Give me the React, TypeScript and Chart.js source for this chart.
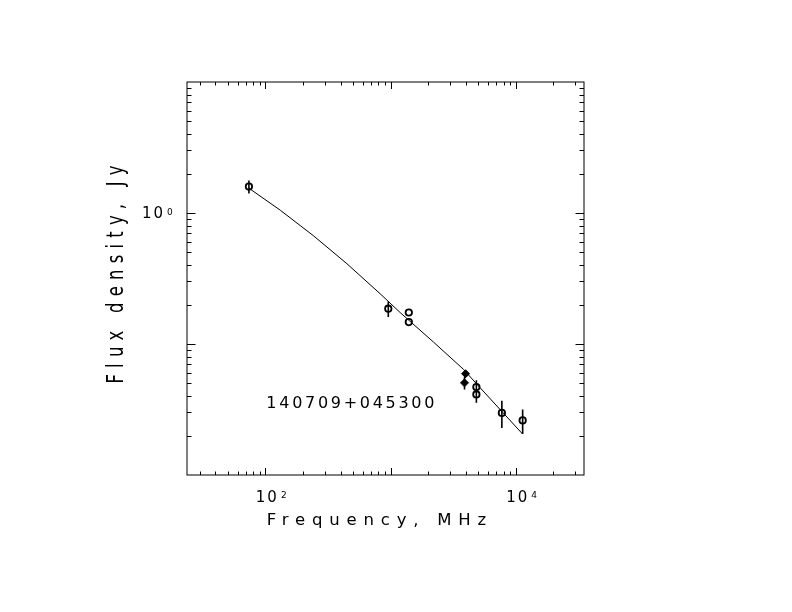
import { useEffect, useRef } from "react"
import { Chart, registerables } from "chart.js"

Chart.register(...registerables)

// measured points (open circles), MHz / Jy
const openFreq = [74, 960, 1400, 1400, 4850, 4850, 7750, 11360]
const openFlux = [1.59, 0.186, 0.174, 0.147, 0.0469, 0.0412, 0.0298, 0.0261]
const openErr = [0.18, 0.025, 0, 0, 0.006, 0.0056, 0.007, 0.0055]

// filled markers near 4 GHz
const filledFreq = [3975, 3900]
const filledFlux = [0.0593, 0.0505]
const filledErr = [0, 0.0055]

// fitted spectrum
const fitFreq = [73.6, 131.8, 242.7, 448.7, 827.9, 1194, 2203, 3828, 5200, 11320]
const fitFlux = [1.552, 1.05, 0.67, 0.41, 0.2415, 0.1738, 0.1035, 0.064, 0.0463, 0.0206]

// axis ticks
const xMajor = [100, 1000, 10000]
const xMinor = [30, 40, 50, 60, 70, 80, 90, 200, 300, 400, 500, 600, 700, 800, 900,
  2000, 3000, 4000, 5000, 6000, 7000, 8000, 9000, 20000, 30000]
const yMajor = [0.1, 1]
const yMinor = [0.02, 0.03, 0.04, 0.05, 0.06, 0.07, 0.08, 0.09,
  0.2, 0.3, 0.4, 0.5, 0.6, 0.7, 0.8, 0.9, 2, 3, 4, 5, 6, 7, 8, 9]
const xLabelValues = [100, 10000]
const xLabelExps = ["2", "4"]
const yLabelValues = [1]
const yLabelExps = ["0"]

const sourceName = "140709+045300"
const xTitle = "Frequency, MHz"
const yTitle = "Flux density, Jy"

const FONT = '"DejaVu Sans", sans-serif'

function text(
  ctx: CanvasRenderingContext2D,
  s: string,
  x: number,
  y: number,
  size: number,
  spacing: number,
  align: "left" | "center",
  rot = 0,
  stretch = 1,
) {
  ctx.save()
  ctx.translate(x, y)
  if (rot) ctx.rotate(rot)
  ctx.scale(1, stretch)
  ctx.font = `${size}px ${FONT}`
  ;(ctx as any).letterSpacing = `${spacing}px`
  ctx.textAlign = "left"
  ctx.textBaseline = "alphabetic"
  ctx.fillStyle = "#000"
  const w = ctx.measureText(s).width - spacing
  ctx.fillText(s, align === "center" ? -w / 2 : 0, 0)
  ctx.restore()
  return w
}

const framePlugin = {
  id: "pgFrame",
  afterDraw(chart: any) {
    const { ctx, chartArea: a } = chart
    const xs = chart.scales.x
    const ys = chart.scales.y
    ctx.save()
    ctx.strokeStyle = "#000"
    ctx.lineWidth = 1
    ctx.strokeRect(a.left, a.top, a.right - a.left, a.bottom - a.top)
    ctx.beginPath()
    const xt = (v: number, len: number) => {
      const p = Math.round(xs.getPixelForValue(v)) + 0.5
      ctx.moveTo(p, a.bottom)
      ctx.lineTo(p, a.bottom - len)
      ctx.moveTo(p, a.top)
      ctx.lineTo(p, a.top + len)
    }
    const yt = (v: number, len: number) => {
      const p = Math.round(ys.getPixelForValue(v)) + 0.5
      ctx.moveTo(a.left, p)
      ctx.lineTo(a.left + len, p)
      ctx.moveTo(a.right, p)
      ctx.lineTo(a.right - len, p)
    }
    xMajor.forEach((v) => xt(v, 7))
    xMinor.forEach((v) => xt(v, 3.5))
    yMajor.forEach((v) => yt(v, 8.5))
    yMinor.forEach((v) => yt(v, 4.5))
    ctx.stroke()

    xLabelValues.forEach((v, i) => {
      const p = xs.getPixelForValue(v)
      const w = text(ctx, "10", p - 9.5, a.bottom + 26.5, 15, 2, "left")
      text(ctx, xLabelExps[i], p - 9.5 + w + 4, a.bottom + 22.5, 9, 0, "left")
    })
    yLabelValues.forEach((v, i) => {
      const p = ys.getPixelForValue(v)
      const w = text(ctx, "10", a.left - 45, p + 4.5, 15, 2, "left")
      text(ctx, yLabelExps[i], a.left - 45 + w + 4, p + 1.5, 9, 0, "left")
    })

    text(ctx, xTitle, (a.left + a.right) / 2 - 9, a.bottom + 50, 16.5, 6.8, "center")
    text(ctx, yTitle, a.left - 64, (a.top + a.bottom) / 2 - 4, 16.5, 6.2, "center", -Math.PI / 2, 1.4)
    text(ctx, sourceName, xs.getPixelForValue(102), ys.getPixelForValue(0.0325), 16, 2.7, "left")
    ctx.restore()
  },
}

function errorBarPoints(freq: number[], flux: number[], err: number[]) {
  const pts: { x: number; y: number | null }[] = []
  freq.forEach((f, i) => {
    if (err[i] > 0) {
      pts.push({ x: f, y: flux[i] - err[i] })
      pts.push({ x: f, y: flux[i] + err[i] })
      pts.push({ x: f, y: null })
    }
  })
  return pts
}

export default function App() {
  const chartRef = useRef<HTMLCanvasElement>(null)
  const chartInstance = useRef<Chart | null>(null)

  useEffect(() => {
    if (!chartRef.current) return
    if (chartInstance.current) chartInstance.current.destroy()
    const ctx = chartRef.current.getContext("2d")
    if (!ctx) return

    chartInstance.current = new Chart(ctx, {
      type: "scatter",
      data: {
        datasets: [
          {
            type: "line",
            label: "fit",
            data: fitFreq.map((f, i) => ({ x: f, y: fitFlux[i] })),
            borderColor: "#000",
            borderWidth: 1,
            pointRadius: 0,
            tension: 0,
            fill: false,
          },
          {
            type: "line",
            label: "errors",
            data: [
              ...errorBarPoints(openFreq, openFlux, openErr),
              ...errorBarPoints(filledFreq, filledFlux, filledErr),
            ] as any,
            borderColor: "#000",
            borderWidth: 1.6,
            pointRadius: 0,
            spanGaps: false,
            fill: false,
          },
          {
            label: "measured",
            data: openFreq.map((f, i) => ({ x: f, y: openFlux[i] })),
            pointStyle: "circle",
            pointRadius: 3.2,
            borderWidth: 1.8,
            borderColor: "#000",
            backgroundColor: "rgba(0,0,0,0)",
          },
          {
            label: "measured (filled)",
            data: filledFreq.map((f, i) => ({ x: f, y: filledFlux[i] })),
            pointStyle: "rectRot",
            pointRadius: 4,
            borderWidth: 1,
            borderColor: "#000",
            backgroundColor: "#000",
          },
        ],
      },
      options: {
        animation: false,
        responsive: true,
        maintainAspectRatio: false,
        layout: { padding: { left: 187, right: 208, top: 82, bottom: 137 } },
        plugins: {
          legend: { display: false },
          tooltip: { enabled: false },
        },
        scales: {
          x: { type: "logarithmic", display: false, min: 23.7, max: 35100, bounds: "data" },
          y: { type: "logarithmic", display: false, min: 0.01, max: 10, bounds: "data" },
        },
      },
      plugins: [framePlugin],
    })

    return () => {
      if (chartInstance.current) {
        chartInstance.current.destroy()
        chartInstance.current = null
      }
    }
  }, [])

  return (
    <div style={{ position: "fixed", left: 0, top: 0, width: 792, height: 612, background: "#fff" }}>
      <canvas ref={chartRef} />
    </div>
  )
}
